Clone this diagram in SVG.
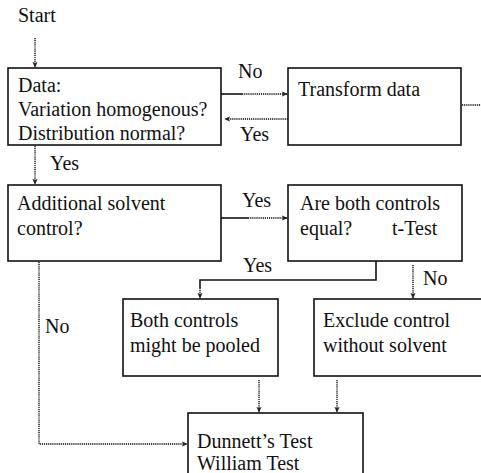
<svg xmlns="http://www.w3.org/2000/svg" width="481" height="473" viewBox="0 0 481 473">
<defs>
<style>
.box{fill:#fff;stroke:#111;stroke-width:1.6}
text{font-family:'Liberation Serif','Times New Roman',serif;font-size:20px;fill:#111}
.d{fill:none;stroke:#444;stroke-width:1.8;stroke-dasharray:1.2 0.9}
.s{fill:none;stroke:#111;stroke-width:1.6}
</style>
<marker id="ah" viewBox="0 0 8 8" refX="7" refY="4" markerWidth="6" markerHeight="6" orient="auto" markerUnits="userSpaceOnUse">
<path d="M0,0.5 L8,4 L0,7.5 L2,4 Z" fill="#222"/>
</marker>
</defs>
<rect width="481" height="473" fill="#fff"/>
<text x="18" y="22">Start</text>
<g id="connectors">
<path class="d" d="M35,38 V67" marker-end="url(#ah)"/>
<path class="s" d="M221,94 H242"/>
<path class="d" d="M242,94 H287" marker-end="url(#ah)"/>
<path class="d" d="M288,119 H225" marker-end="url(#ah)"/>
<path class="d" d="M462,105 H481"/>
<path class="d" d="M35,146 V184" marker-end="url(#ah)"/>
<path class="s" d="M221,218 H248"/>
<path class="d" d="M248,218 H287" marker-end="url(#ah)"/>
<path class="s" d="M376,261 V280 H200 V288"/>
<path class="d" d="M200,288 V298" marker-end="url(#ah)"/>
<path class="d" d="M413,265 V298" marker-end="url(#ah)"/>
<path class="d" d="M259,380 V412" marker-end="url(#ah)"/>
<path class="d" d="M337,380 V412" marker-end="url(#ah)"/>
<path class="d" d="M39,262 V444 H187" marker-end="url(#ah)"/>
<text x="238" y="78">No</text>
<text x="240" y="141">Yes</text>
<text x="50" y="170">Yes</text>
<text x="242" y="207">Yes</text>
<text x="243" y="272">Yes</text>
<text x="423" y="285">No</text>
<text x="45" y="333">No</text>
</g>
<g id="data">
<rect class="box" x="8" y="68" width="213" height="77"/>
<text x="18" y="92">Data:</text>
<text x="18" y="116">Variation homogenous?</text>
<text x="18" y="140">Distribution normal?</text>
</g>
<g id="transform">
<rect class="box" x="288" y="68" width="173" height="77"/>
<text x="298" y="96">Transform data</text>
</g>
<g id="additional">
<rect class="box" x="8" y="185" width="213" height="76"/>
<text x="17" y="210">Additional solvent</text>
<text x="17" y="235">control?</text>
</g>
<g id="equal">
<rect class="box" x="288" y="185" width="174" height="76"/>
<text x="300" y="210">Are both controls</text>
<text x="300" y="235">equal?</text>
<text x="392" y="235">t-Test</text>
</g>
<g id="pooled">
<rect class="box" x="123" y="299" width="155" height="77"/>
<text x="130" y="327">Both controls</text>
<text x="130" y="352">might be pooled</text>
</g>
<g id="exclude">
<rect class="box" x="314" y="299" width="180" height="77"/>
<text x="323" y="327">Exclude control</text>
<text x="323" y="352">without solvent</text>
</g>
<g id="dunnett">
<rect class="box" x="188" y="413" width="175" height="70"/>
<text x="197" y="448">Dunnett’s Test</text>
<text x="197" y="470">William Test</text>
</g>
</svg>
